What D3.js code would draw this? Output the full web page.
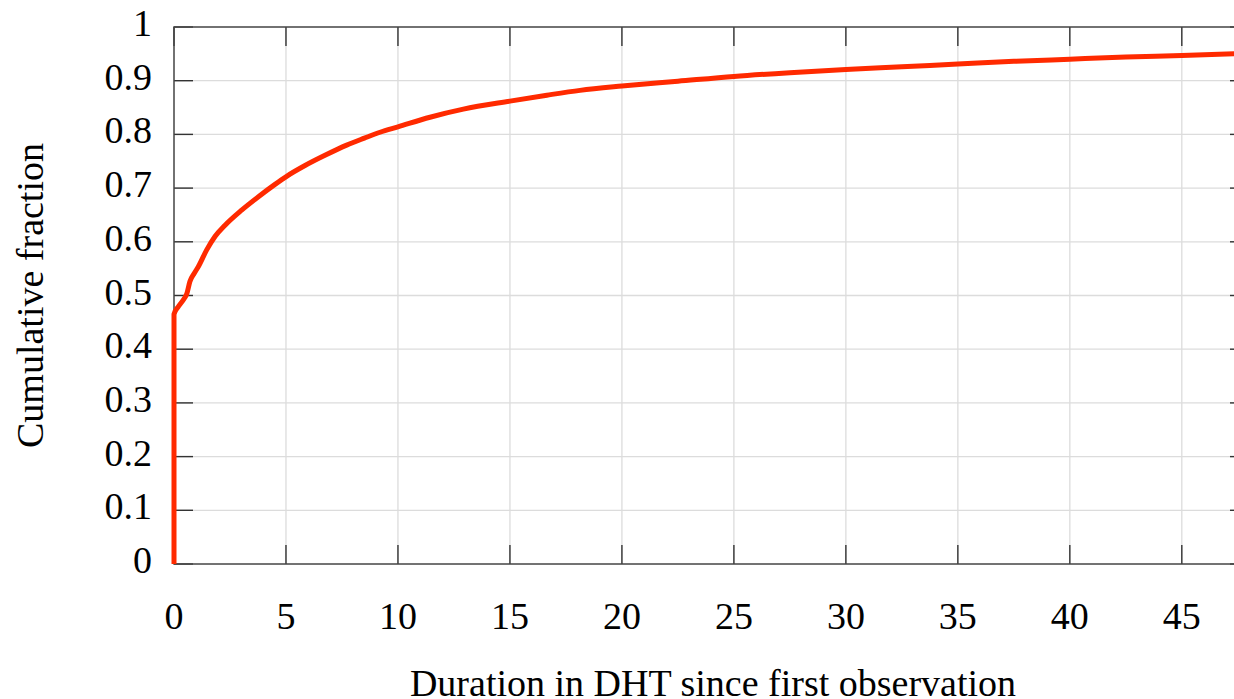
<!DOCTYPE html>
<html>
<head>
<meta charset="utf-8">
<script src="https://cdn.jsdelivr.net/npm/d3@7"></script>
<style>
  html, body { margin: 0; padding: 0; background: #fff; }
  svg { display: block; }
  text { font-family: "Liberation Serif", "Times New Roman", serif; fill: #000; }
</style>
</head>
<body>
<svg id="chart" width="1234" height="699"></svg>
<script>
// ---- data ----
const durations = [0, 0, 0.19, 0.45, 0.57, 0.71, 0.9, 1.09, 1.46, 1.83, 2.28, 3.02, 3.77, 4.51, 5.03, 5.85, 6.74, 7.71, 8.5, 9.2, 10, 11.43, 12.92, 15, 16.65, 18.13, 20, 22.5, 25, 27.5, 30, 32.5, 35, 37.5, 40, 42.5, 45, 48];
const fractions = [0, 0.465, 0.479, 0.494, 0.503, 0.526, 0.541, 0.554, 0.585, 0.610, 0.631, 0.659, 0.684, 0.707, 0.722, 0.742, 0.761, 0.780, 0.793, 0.804, 0.814, 0.832, 0.847, 0.862, 0.873, 0.882, 0.890, 0.899, 0.908, 0.915, 0.921, 0.926, 0.931, 0.936, 0.940, 0.944, 0.947, 0.951];
const xTicks = [0, 5, 10, 15, 20, 25, 30, 35, 40, 45];
const yTicks = [0, 0.1, 0.2, 0.3, 0.4, 0.5, 0.6, 0.7, 0.8, 0.9, 1];
const xTitle = "Duration in DHT since first observation";
const yTitle = "Cumulative fraction";

(function () {
// ---- layout ----
const pL = 174, pR = 1249, pT = 27, pB = 564;
const svg = d3.select("#chart");

const x = d3.scaleLinear().domain([0, 48]).range([pL, pR]);
const y = d3.scaleLinear().domain([0, 1]).range([pB, pT]);

const tickLen = 19;
const fontSize = 38;

// gridlines
const grid = svg.append("g");
grid.selectAll("line.gx").data(xTicks.filter(d => d > 0)).join("line")
  .attr("x1", d => x(d)).attr("x2", d => x(d))
  .attr("y1", pT).attr("y2", pB)
  .attr("stroke", "#dcdcdc").attr("stroke-width", 1.3);
grid.selectAll("line.gy").data(yTicks.filter(d => d > 0 && d < 1)).join("line")
  .attr("x1", pL).attr("x2", pR)
  .attr("y1", d => y(d)).attr("y2", d => y(d))
  .attr("stroke", "#dcdcdc").attr("stroke-width", 1.3);

// ticks (inward, on all four sides)
const tk = svg.append("g").attr("stroke", "#333").attr("stroke-width", 1.4);
tk.selectAll("line.tb").data(xTicks).join("line")
  .attr("x1", d => x(d)).attr("x2", d => x(d))
  .attr("y1", pB).attr("y2", pB - tickLen);
tk.selectAll("line.tt").data(xTicks).join("line")
  .attr("x1", d => x(d)).attr("x2", d => x(d))
  .attr("y1", pT).attr("y2", pT + tickLen);
tk.selectAll("line.tl").data(yTicks).join("line")
  .attr("x1", pL).attr("x2", pL + tickLen)
  .attr("y1", d => y(d)).attr("y2", d => y(d));
tk.selectAll("line.tr").data(yTicks).join("line")
  .attr("x1", pR).attr("x2", pR - tickLen)
  .attr("y1", d => y(d)).attr("y2", d => y(d));

// frame
svg.append("rect")
  .attr("x", pL).attr("y", pT)
  .attr("width", pR - pL).attr("height", pB - pT)
  .attr("fill", "none").attr("stroke", "#444").attr("stroke-width", 1.5);

// curve
const line = d3.line()
  .x((d, i) => x(durations[i]))
  .y((d, i) => y(fractions[i]))
  .curve(d3.curveMonotoneX);
svg.append("path")
  .datum(fractions)
  .attr("d", line)
  .attr("fill", "none")
  .attr("stroke", "#ff2a00")
  .attr("stroke-width", 5)
  .attr("stroke-linejoin", "round");

// tick labels
svg.append("g").selectAll("text").data(xTicks).join("text")
  .attr("x", d => x(d)).attr("y", 629)
  .attr("text-anchor", "middle")
  .attr("font-size", fontSize)
  .text(d => d3.format("")(d));

svg.append("g").selectAll("text").data(yTicks).join("text")
  .attr("x", 152).attr("y", d => y(d) + 9)
  .attr("text-anchor", "end")
  .attr("font-size", fontSize)
  .text(d => d3.format("")(d));

// axis titles
svg.append("text")
  .attr("x", 713).attr("y", 696)
  .attr("text-anchor", "middle")
  .attr("font-size", fontSize)
  .text(xTitle);

svg.append("text")
  .attr("transform", `translate(43,${(pT + pB) / 2}) rotate(-90)`)
  .attr("text-anchor", "middle")
  .attr("font-size", fontSize)
  .text(yTitle);
})();
</script>
</body>
</html>
